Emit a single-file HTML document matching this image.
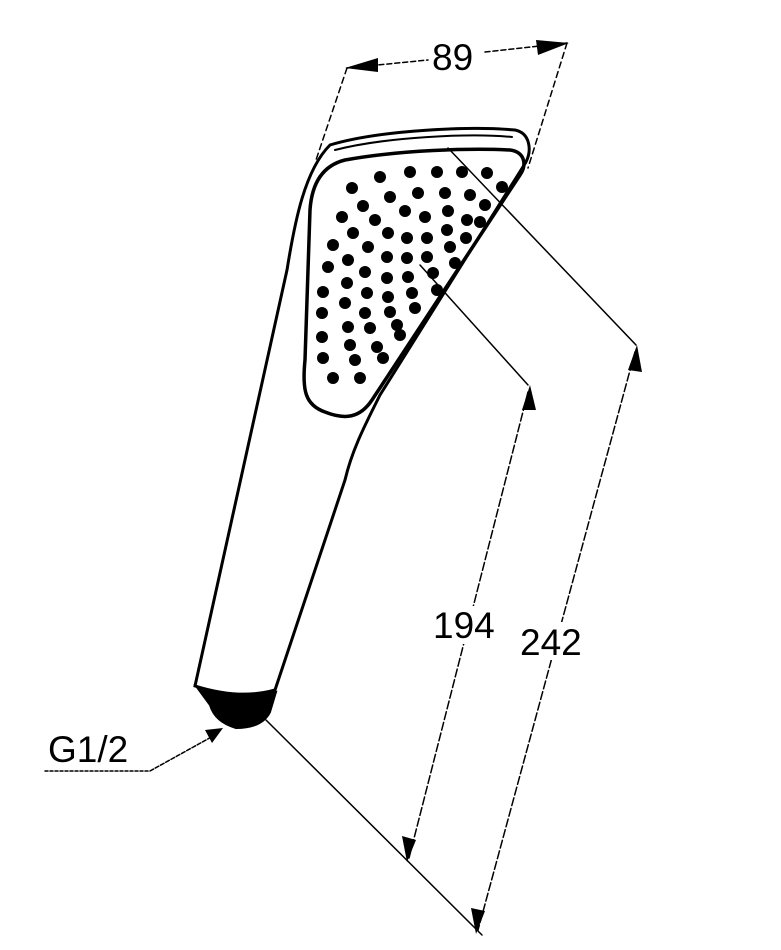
<!DOCTYPE html>
<html><head><meta charset="utf-8"><style>
html,body{margin:0;padding:0;background:#fff;}
svg{display:block;}
text{font-family:"Liberation Sans",sans-serif;font-size:37px;fill:#000;}
</style></head><body>
<svg width="781" height="950" viewBox="0 0 781 950" xmlns="http://www.w3.org/2000/svg">
<g fill="none" stroke="#000" stroke-linecap="round">
<line x1="347" y1="68" x2="428" y2="60" stroke-width="1.5" stroke-dasharray="5,3"/>
<line x1="485" y1="52" x2="567" y2="43" stroke-width="1.5" stroke-dasharray="5,3"/>
<line x1="347" y1="68" x2="316" y2="160" stroke-width="1.5" stroke-dasharray="6,4"/>
<line x1="567" y1="43" x2="528" y2="168" stroke-width="1.5" stroke-dasharray="6,4"/>
<path d="M330,145 C380,130 470,126 515,130 C530,133 532,150 526,162 L380,395 C365,425 352,450 345,480 L275,690 Q240,700 195,686 L287,270 C295,220 305,170 330,145 Z" stroke-width="3"/>
<path d="M335,150 C385,137 470,133 512,137" stroke-width="2"/>
<path d="M345,160 C400,150 470,148 510,150 C525,152 527,165 520,175 L372,400 C360,418 345,420 325,412 C305,405 302,390 305,360 L310,210 C312,180 325,165 345,160 Z" stroke-width="3.5"/>
<path d="M196,686 Q238,700 276,692 L270,712 Q262,728 236,728 Q215,722 210,705 Z" fill="#000" stroke-width="2"/>
<line x1="448" y1="148" x2="636" y2="345" stroke-width="1.5"/>
<line x1="420" y1="265" x2="528" y2="385" stroke-width="1.5"/>
<line x1="266" y1="720" x2="482" y2="935" stroke-width="1.5"/>
<line x1="528" y1="392" x2="409" y2="858" stroke-width="1.5" stroke-dasharray="8,3"/>
<line x1="635" y1="352" x2="478" y2="930" stroke-width="1.5" stroke-dasharray="8,3"/>
<line x1="45" y1="771" x2="150" y2="771" stroke-width="1.5" stroke-dasharray="3,2"/>
<line x1="150" y1="771" x2="215" y2="735" stroke-width="1.5" stroke-dasharray="4,2"/>
</g>
<g fill="#000">
<polygon points="345,68 378,58 378,72"/>
<polygon points="569,43 536,40 538,55"/>
<polygon points="530,385 522,410 536,410"/>
<polygon points="407,862 402,836 416,840"/>
<polygon points="637,345 628,370 642,372"/>
<polygon points="476,934 471,908 485,911"/>
<polygon points="223,728 205,730 212,743"/>
</g>
<g fill="#000">
<circle cx="380" cy="177" r="6"/><circle cx="410" cy="172" r="6"/><circle cx="437" cy="172" r="6"/><circle cx="462" cy="172" r="6"/><circle cx="487" cy="173" r="6"/><circle cx="502" cy="187" r="6"/>
<circle cx="352" cy="188" r="6"/><circle cx="390" cy="197" r="6"/><circle cx="418" cy="193" r="6"/><circle cx="445" cy="193" r="6"/><circle cx="470" cy="195" r="6"/><circle cx="485" cy="205" r="6"/>
<circle cx="363" cy="206" r="6"/><circle cx="405" cy="211" r="6"/><circle cx="425" cy="217" r="6"/><circle cx="448" cy="211" r="6"/><circle cx="467" cy="220" r="6"/><circle cx="480" cy="222" r="6"/>
<circle cx="342" cy="217" r="6"/><circle cx="375" cy="220" r="6"/><circle cx="388" cy="233" r="6"/><circle cx="407" cy="238" r="6"/><circle cx="427" cy="238" r="6"/><circle cx="447" cy="230" r="6"/><circle cx="466" cy="238" r="6"/>
<circle cx="353" cy="233" r="6"/><circle cx="333" cy="245" r="6"/><circle cx="368" cy="247" r="6"/><circle cx="387" cy="257" r="6"/><circle cx="407" cy="258" r="6"/><circle cx="427" cy="257" r="6"/><circle cx="450" cy="247" r="6"/><circle cx="455" cy="263" r="6"/>
<circle cx="328" cy="267" r="6"/><circle cx="348" cy="260" r="6"/><circle cx="365" cy="272" r="6"/><circle cx="387" cy="278" r="6"/><circle cx="408" cy="277" r="6"/><circle cx="433" cy="273" r="6"/><circle cx="437" cy="290" r="6"/>
<circle cx="323" cy="292" r="6"/><circle cx="347" cy="283" r="6"/><circle cx="367" cy="293" r="6"/><circle cx="388" cy="297" r="6"/><circle cx="412" cy="293" r="6"/><circle cx="415" cy="308" r="6"/>
<circle cx="322" cy="313" r="6"/><circle cx="345" cy="303" r="6"/><circle cx="365" cy="313" r="6"/><circle cx="390" cy="312" r="6"/><circle cx="400" cy="335" r="6"/>
<circle cx="322" cy="337" r="6"/><circle cx="348" cy="327" r="6"/><circle cx="370" cy="328" r="6"/><circle cx="397" cy="325" r="6"/>
<circle cx="323" cy="358" r="6"/><circle cx="350" cy="345" r="6"/><circle cx="377" cy="347" r="6"/><circle cx="383" cy="358" r="6"/><circle cx="355" cy="360" r="6"/>
<circle cx="333" cy="378" r="6"/><circle cx="360" cy="378" r="6"/>
</g>
<g fill="#fff">
<rect x="430" y="40" width="52" height="36"/>
<rect x="432" y="606" width="68" height="38"/>
<rect x="519" y="622" width="68" height="38"/>
</g>
<text x="432" y="70">89</text>
<text x="433" y="638">194</text>
<text x="520" y="655">242</text>
<text x="48" y="762">G1/2</text>
</svg>
</body></html>
